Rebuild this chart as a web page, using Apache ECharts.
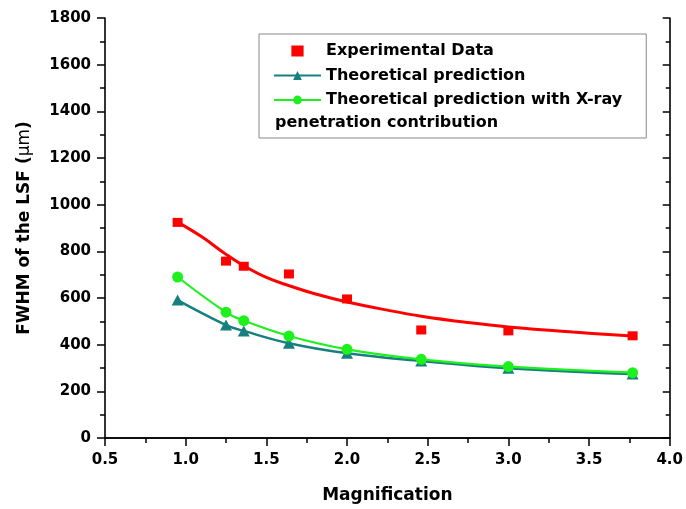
<!DOCTYPE html>
<html>
<head>
<meta charset="utf-8">
<script src="https://cdn.jsdelivr.net/npm/echarts@6/dist/echarts.min.js"></script>
<style>
  html, body { margin: 0; padding: 0; background: #fff; }
  #chart { width: 686px; height: 509px; }
</style>
</head>
<body>
<div id="chart"></div>
<script>
// Line spread function width versus magnification
const magnification   = [0.95, 1.25, 1.36, 1.64, 2.0, 2.46, 3.0, 3.77];
const experimental    = [924, 758, 736, 703, 596, 463, 459, 438];
const theoretical     = [591, 484, 459, 406, 363, 330, 299, 274];
const withPenetration = [690, 539, 503, 437, 380, 337, 306, 280];

// fitted curve through the experimental data
const fitX = [0.95, 1.1, 1.25, 1.36, 1.5, 1.64, 1.8, 2.0, 2.25, 2.46, 2.75, 3.0, 3.4, 3.77];
const fitY = [925, 862, 787, 738, 688, 653, 618, 583, 548, 522, 495, 476, 454, 437];

const xTicks = { min: 0.5, max: 4.0, interval: 0.5 };
const yTicks = { min: 0, max: 1800, interval: 200 };

const seriesNames = [
  'Experimental Data',
  'Theoretical prediction',
  'Theoretical prediction with X-ray penetration contribution'
];

const FONT = '"DejaVu Sans", sans-serif';
const pairs = (xs, ys) => xs.map((x, i) => [x, ys[i]]);

const baseAxisLine = { show: true, lineStyle: { color: '#000', width: 1.6 } };

const chart = echarts.init(document.getElementById('chart'));
chart.setOption({
  backgroundColor: '#fff',
  animation: false,
  grid: { left: 105, right: 16, top: 18, bottom: 71, containLabel: false },
  legend: {
    left: 259, top: 34,
    orient: 'vertical',
    data: [
      { name: seriesNames[0], icon: 'path://M0 0H10V9H0Z' },
      { name: seriesNames[1] },
      { name: seriesNames[2] }
    ],
    symbolKeepAspect: true,
    itemWidth: 47, itemHeight: 11, itemGap: 4.5,
    padding: [7, 24, 28, 14],
    borderColor: '#888', borderWidth: 1,
    textStyle: { fontFamily: FONT, fontWeight: 'bold', fontSize: 16, color: '#000', lineHeight: 20 },
    formatter: name => name === seriesNames[2] ? 'Theoretical prediction with X-ray' : name
  },
  graphic: [{
    type: 'text', left: 275, top: 115, z: 100,
    style: { text: 'penetration contribution', font: 'bold 16px ' + FONT, fill: '#000' }
  }],
  xAxis: [{
    type: 'value', position: 'bottom',
    min: xTicks.min, max: xTicks.max, interval: xTicks.interval,
    name: 'Magnification', nameLocation: 'middle', nameGap: 49,
    nameTextStyle: { fontFamily: FONT, fontWeight: 'bold', fontSize: 17, color: '#000' },
    axisLine: baseAxisLine,
    axisTick: { show: true, inside: false, length: 8, lineStyle: { color: '#000', width: 1.5 } },
    minorTick: { show: true, splitNumber: 2, length: 5, lineStyle: { color: '#000', width: 1.5 } },
    axisLabel: { fontFamily: FONT, fontWeight: 'bold', fontSize: 15, color: '#000', margin: 15,
                 formatter: v => v.toFixed(1) },
    splitLine: { show: false }
  }, {
    type: 'value', position: 'top',
    min: xTicks.min, max: xTicks.max, interval: xTicks.interval,
    axisLine: baseAxisLine,
    axisTick: { show: true, inside: true, length: 7, lineStyle: { color: '#000', width: 1.5 } },
    minorTick: { show: true, splitNumber: 2, length: 4, lineStyle: { color: '#000', width: 1.5 } },
    axisLabel: { show: false },
    splitLine: { show: false }
  }],
  yAxis: [{
    type: 'value', position: 'left',
    min: yTicks.min, max: yTicks.max, interval: yTicks.interval,
    name: '{b|FWHM of the LSF (}{n|μm}{b|)}', nameLocation: 'middle', nameGap: 72, nameRotate: 90,
    nameTextStyle: {
      rich: {
        b: { fontFamily: FONT, fontWeight: 'bold', fontSize: 17, color: '#000' },
        n: { fontFamily: FONT, fontWeight: 'normal', fontSize: 17, color: '#000' }
      }
    },
    axisLine: baseAxisLine,
    axisTick: { show: true, inside: false, length: 8, lineStyle: { color: '#000', width: 1.5 } },
    minorTick: { show: true, splitNumber: 2, length: 5, lineStyle: { color: '#000', width: 1.5 } },
    axisLabel: { fontFamily: FONT, fontWeight: 'bold', fontSize: 15, color: '#000', margin: 14,
                 formatter: v => String(v) },
    splitLine: { show: false }
  }, {
    type: 'value', position: 'right',
    min: yTicks.min, max: yTicks.max, interval: yTicks.interval,
    axisLine: baseAxisLine,
    axisTick: { show: true, inside: true, length: 7, lineStyle: { color: '#000', width: 1.5 } },
    minorTick: { show: true, splitNumber: 2, length: 4, lineStyle: { color: '#000', width: 1.5 } },
    axisLabel: { show: false },
    splitLine: { show: false }
  }],
  series: [{
    name: seriesNames[1],
    type: 'line', xAxisIndex: 0, yAxisIndex: 0,
    data: pairs(magnification, theoretical),
    smooth: 0.4,
    symbol: 'triangle', symbolSize: [12, 11],
    itemStyle: { color: '#17807e' },
    lineStyle: { color: '#17807e', width: 2.5 },
    z: 3
  }, {
    name: seriesNames[2],
    type: 'line', xAxisIndex: 0, yAxisIndex: 0,
    data: pairs(magnification, withPenetration),
    smooth: 0.4,
    symbol: 'circle', symbolSize: 11,
    itemStyle: { color: '#1ef01e' },
    lineStyle: { color: '#1ef01e', width: 2.2 },
    z: 4
  }, {
    name: 'fit',
    type: 'line', xAxisIndex: 0, yAxisIndex: 0,
    data: pairs(fitX, fitY),
    smooth: 0.4,
    showSymbol: false, symbol: 'none',
    lineStyle: { color: '#ff0000', width: 3 },
    z: 5
  }, {
    name: seriesNames[0],
    type: 'scatter', xAxisIndex: 0, yAxisIndex: 0,
    data: pairs(magnification, experimental),
    symbol: 'rect', symbolSize: [10, 9],
    itemStyle: { color: '#ff0000', opacity: 1 },
    z: 6
  }]
});
</script>
</body>
</html>
